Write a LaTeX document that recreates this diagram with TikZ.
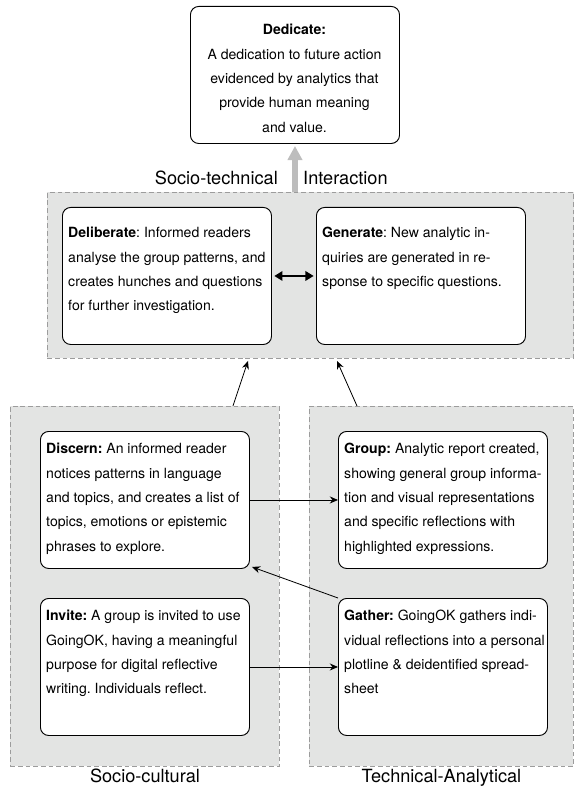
\documentclass[tikz,border=0pt]{standalone}
\usepackage{fontspec}
\setmainfont{TeX Gyre Heros}
\usetikzlibrary{arrows.meta}
\frenchspacing
\definecolor{zonegray}{HTML}{E3E4E3}
\definecolor{dashgray}{HTML}{9C9C9C}
\definecolor{liftgray}{HTML}{BDBDBD}
\tikzset{
	zone/.style={draw=dashgray, dash pattern=on 4pt off 2.5pt, fill=zonegray, line width=0.8pt, anchor=north west, inner sep=0pt},
	card/.style={draw, rounded corners=7pt, fill=white, line width=0.8pt, anchor=north west, inner sep=0pt, minimum width=6.27cm, minimum height=4.11cm},
	cardtext/.style={anchor=north west, inner sep=0pt, align=left, font=\fontsize{12}{20.8}\selectfont},
	zonelabel/.style={inner sep=0pt, font=\fontsize{15.5}{18}\selectfont},
	flow/.style={-{Stealth[length=7pt,width=6pt]}, line width=0.7pt},
}

\begin{document}
\begin{tikzpicture}[x=0.03cm, y=-0.03cm]
				\useasboundingbox (0,0) rectangle (574,791);
				\node[zone, minimum width=15.78cm, minimum height=4.98cm] (socint)at(47, 192) {};
				\node[zone, minimum width=8.07cm, minimum height=10.8cm] (socult)at(10, 406) {};
				\node[zone, minimum width=7.92cm, minimum height=10.8cm] (techan)at(309, 406) {};

				\node[card] (dedicate)at(190, 6) {};
				\node[card] (deliberate)at(62, 207) {};
				\node[card] (generate)at(316, 207) {};
				\node[card] (discern)at(40, 431) {};
				\node[card] (group)at(338, 431) {};
				\node[card] (invite)at(40, 598) {};
				\node[card] (gather)at(338, 598) {};

				\node[cardtext, anchor=north, align=center] (dedicatetext)at(294.5, 24) {\textbf{Dedicate:}\\A dedication to future action\\evidenced by analytics that\\provide human meaning\\and value.};
				\node[cardtext] (deliberatetext)at(68, 227) {\textbf{Deliberate}: Informed readers\\analyse the group patterns, and\\creates hunches and questions\\for further investigation.};
				\node[cardtext] (generatetext)at(322, 227) {\textbf{Generate}: New analytic in-\\quiries are generated in re-\\sponse to specific questions.};
				\node[cardtext] (discerntext)at(46, 443) {\textbf{Discern:} An informed reader\\notices patterns in language\\and topics, and creates a list of\\topics, emotions or epistemic\\phrases to explore.};
				\node[cardtext] (grouptext)at(344, 443) {\textbf{Group:} Analytic report created,\\showing general group informa-\\tion and visual representations\\and specific reflections with\\highlighted expressions.};
				\node[cardtext] (invitetext)at(46, 610) {\textbf{Invite:} A group is invited to use\\GoingOK, having a meaningful\\purpose for digital reflective\\writing. Individuals reflect.};
				\node[cardtext] (gathertext)at(344, 610) {\textbf{Gather:} GoingOK gathers indi-\\vidual reflections into a personal\\plotline \& deidentified spread-\\sheet};

				\node[zonelabel, anchor=base east] (socintleft)at(278, 185) {Socio-technical};
				\node[zonelabel, anchor=base west] (socintright)at(303, 185) {Interaction};
				\node[zonelabel, anchor=base] (socultlabel) at ([shift={(0,16)}]socult.south) {Socio-cultural};
				\node[zonelabel, anchor=base] (techanlabel) at ([shift={(0,16)}]techan.south) {Technical-Analytical};

				\draw[liftgray, line width=4.5pt, -{Triangle[length=12pt,width=12pt]}] (dedicate.south |- socint.north) -- ([shift={(0,2)}]dedicate.south);
				\draw[line width=2pt, {Triangle[length=7pt,width=8pt]}-{Triangle[length=7pt,width=8pt]}, shorten <=2pt, shorten >=2pt] (deliberate.east) -- (generate.west);
				\draw[flow] ([shift={(-47,0)}]socult.north east) -- ([shift={(201,2)}]socint.south west);
				\draw[flow] ([shift={(48,0)}]techan.north west) -- ([shift={(290,2)}]socint.south west);
				\draw[flow] (discern.east) -- (group.west);
				\draw[flow] (invite.east) -- (gather.west);
				\draw[flow] (gather.north west) -- ([shift={(2,-2)}]discern.south east);
		\end{tikzpicture}
\end{document}
